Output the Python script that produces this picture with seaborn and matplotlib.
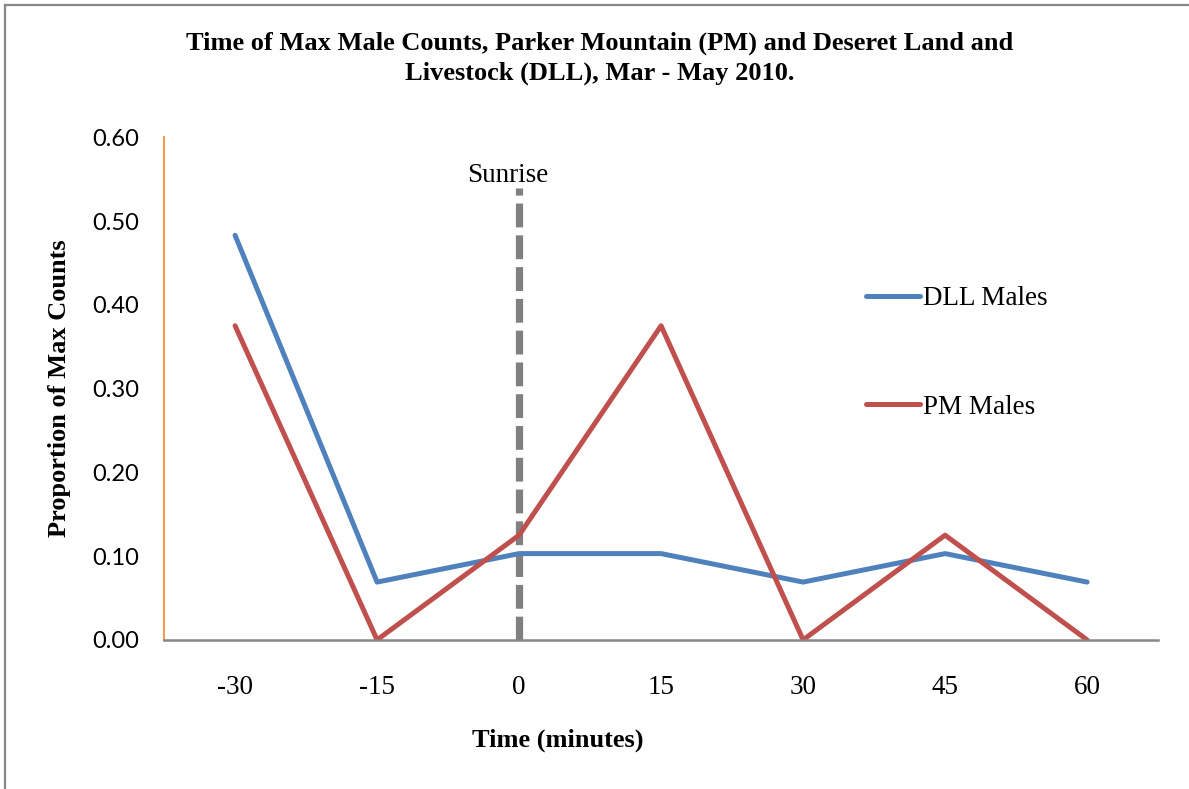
import pandas as pd
import matplotlib.pyplot as plt
import seaborn as sns
from matplotlib.patches import Rectangle

# Data
times = ["-30", "-15", "0", "15", "30", "45", "60"]
dll_males = [0.483, 0.069, 0.103, 0.103, 0.069, 0.103, 0.069]
pm_males = [0.375, 0.0, 0.125, 0.375, 0.0, 0.125, 0.0]
series_names = ["DLL Males", "PM Males"]
series_colors = ["#4F81BD", "#C0504D"]
sunrise_time = "0"
sunrise_top = 0.54

df = pd.DataFrame({
    "time": times * 2,
    "value": dll_males + pm_males,
    "series": [series_names[0]] * len(times) + [series_names[1]] * len(times),
})

sns.set_style("white")
plt.rcParams["font.family"] = ["Liberation Serif", "DejaVu Serif"]
plt.rcParams["text.color"] = "black"
plt.rcParams["axes.labelcolor"] = "black"
plt.rcParams["xtick.color"] = "black"
plt.rcParams["ytick.color"] = "black"

fig = plt.figure(figsize=(11.89, 7.89), dpi=100)
ax = fig.add_axes([0.138, 0.189, 0.836, 0.637])

# outer chart frame (cropped on right/bottom like the original)
fig.patches.append(Rectangle((5 / 1189, -0.05), 1.2, 1 - 5 / 789 + 0.05,
                             transform=fig.transFigure, fill=False,
                             edgecolor="#868686", linewidth=1.6))

sns.lineplot(
    data=df, x="time", y="value", hue="series",
    palette=dict(zip(series_names, series_colors)),
    linewidth=3.6, solid_capstyle="round", ax=ax, sort=False,
)

# sunrise marker
sx = times.index(sunrise_time)
ax.plot([sx, sx], [0, sunrise_top], color="#808080", linewidth=5.2,
        linestyle=(0, (3.3, 1.1)), zorder=1)
ax.text(sx - 0.08, sunrise_top, "Sunrise", ha="center", va="bottom",
        fontsize=19.5)

ax.set_xlim(-0.5, len(times) - 0.5)
ax.set_ylim(0, 0.6)
ax.set_yticks([0, 0.1, 0.2, 0.3, 0.4, 0.5, 0.6])
ax.set_yticklabels([f"{v:.2f}" for v in ax.get_yticks()], family="Lato", fontsize=17)
ax.tick_params(axis="y", pad=18, length=0)
ax.tick_params(axis="x", pad=25, length=0, labelsize=19.5)

for s in ["top", "right"]:
    ax.spines[s].set_visible(False)
ax.spines["left"].set_color("#F79646")
ax.spines["left"].set_linewidth(1.4)
ax.spines["bottom"].set_color("#868686")
ax.spines["bottom"].set_linewidth(1.8)

ax.set_xlabel("Time (minutes)", fontsize=19, fontweight="bold")
ax.xaxis.set_label_coords(558 / 1189, 1 - 740 / 789, transform=fig.transFigure)
ax.xaxis.label.set_va("center")
ax.set_ylabel("Proportion of Max Counts", fontsize=19, fontweight="bold")
ax.yaxis.set_label_coords(60 / 1189, 1 - 388 / 789, transform=fig.transFigure)
ax.yaxis.label.set_va("center")

fig.text(600 / 1189, 1 - 32 / 789,
         "Time of Max Male Counts, Parker Mountain (PM) and Deseret Land and\n"
         "Livestock (DLL), Mar - May 2010.",
         ha="center", va="top", fontsize=19, fontweight="bold", linespacing=1.35)

handles, labels = ax.get_legend_handles_labels()
ax.legend(handles, labels, loc="upper left", bbox_to_anchor=(866 / 1189, 1 - 286 / 789),
          bbox_transform=fig.transFigure, frameon=False, fontsize=19.5,
          borderpad=0, borderaxespad=0, handlelength=2.0, handletextpad=0.12,
          labelspacing=3.1)

plt.savefig("out.png", dpi=100)
